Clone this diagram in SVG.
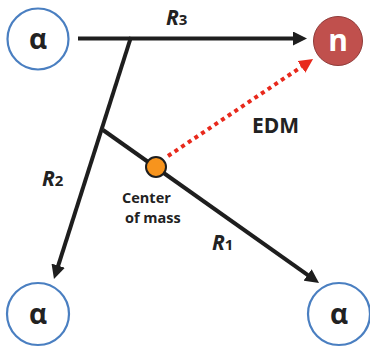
<svg xmlns="http://www.w3.org/2000/svg" width="370" height="347" viewBox="0 0 370 347">
  <style>
    .alpha-c { fill: #ffffff; stroke: #4a7fc1; stroke-width: 2.2; }
    .alpha-t { font-family: "Open Sans", "DejaVu Sans", sans-serif; font-weight: bold; font-size: 28px; fill: #222222; text-anchor: middle; }
    .vec { stroke: #1e1e1e; stroke-width: 4; fill: none; }
    .edm { stroke: #e8291c; stroke-width: 4; stroke-dasharray: 4 4; fill: none; }
    .lbl { font-family: "Open Sans", "Liberation Sans", sans-serif; font-weight: bold; fill: #222222; }
    .rl { font-family: "Open Sans", "Liberation Sans", sans-serif; font-weight: bold; font-style: italic; font-size: 21px; fill: #222222; }
    .sub { font-style: normal; font-size: 15px; font-weight: bold; }
  </style>
  <defs>
    <marker id="ah" markerUnits="userSpaceOnUse" markerWidth="15" markerHeight="14" refX="6" refY="7" orient="auto">
      <path d="M0,0 L14,7 L0,14 Z" fill="#1e1e1e"/>
    </marker>
    <marker id="ahr" markerUnits="userSpaceOnUse" markerWidth="15" markerHeight="14" refX="6" refY="7" orient="auto">
      <path d="M0,0 L14,7 L0,14 Z" fill="#e8291c"/>
    </marker>
  </defs>

  <g id="connectors">
    <line id="R3" class="vec" x1="78" y1="38.5" x2="299" y2="38.5" marker-end="url(#ah)"/>
    <line id="R2" class="vec" x1="131" y1="37" x2="56.4" y2="271.4" marker-end="url(#ah)"/>
    <line id="R1" class="vec" x1="103" y1="130" x2="312.5" y2="278.4" marker-end="url(#ah)"/>
    <line id="EDM" class="edm" x1="168" y1="156" x2="306.4" y2="63.5" marker-end="url(#ahr)"/>
  </g>

  <g id="alpha-top">
    <circle class="alpha-c" cx="38" cy="39" r="30.5"/>
    <text class="alpha-t" x="38" y="49">α</text>
  </g>
  <g id="neutron">
    <circle cx="338" cy="41" r="24.5" fill="#c0504d" stroke="#8f3b39" stroke-width="1"/>
    <text x="338" y="51" font-family="'Open Sans', 'DejaVu Sans', sans-serif" font-weight="bold" font-size="30" fill="#ffffff" text-anchor="middle">n</text>
  </g>
  <g id="alpha-left">
    <circle class="alpha-c" cx="38" cy="314" r="31"/>
    <text class="alpha-t" x="38" y="324">α</text>
  </g>
  <g id="alpha-right">
    <circle class="alpha-c" cx="339" cy="314" r="31"/>
    <text class="alpha-t" x="339" y="324">α</text>
  </g>
  <g id="center-of-mass">
    <circle cx="156" cy="167" r="10" fill="#f7941d" stroke="#1e1e1e" stroke-width="2"/>
  </g>

  <g id="labels">
    <text class="rl" x="166" y="25">R<tspan class="sub">3</tspan></text>
    <text class="rl" x="42" y="186">R<tspan class="sub">2</tspan></text>
    <text class="rl" x="212" y="250">R<tspan class="sub">1</tspan></text>
    <text class="lbl" x="252" y="133" font-size="21">EDM</text>
    <text class="lbl" x="122" y="203" font-size="14.5" font-weight="600">Center</text>
    <text class="lbl" x="125" y="223" font-size="14.5" font-weight="600">of mass</text>
  </g>
</svg>
